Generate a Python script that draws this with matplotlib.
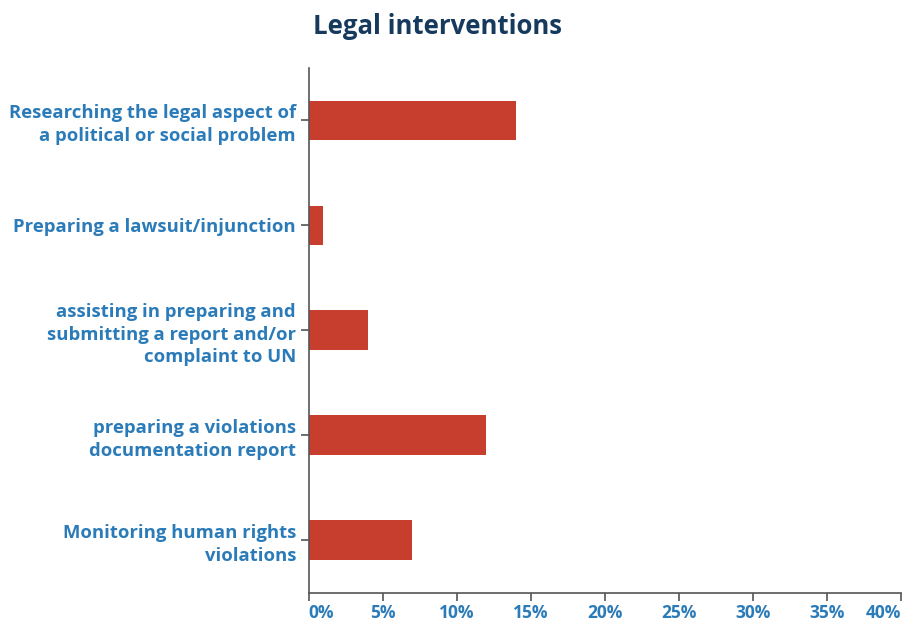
import matplotlib.pyplot as plt
from matplotlib.ticker import PercentFormatter

# Share of legal interventions, bottom to top
categories = [
    "Monitoring human rights\nviolations",
    "preparing a violations\ndocumentation report",
    "assisting in preparing and\nsubmitting a report and/or\ncomplaint to UN",
    "Preparing a lawsuit/injunction",
    "Researching the legal aspect of\na political or social problem",
]
values = [7, 12, 4, 1, 14]
xticks = [0, 5, 10, 15, 20, 25, 30, 35, 40]

bar_color = "#c73e2e"
label_color = "#2b7bb9"
title_color = "#16395e"
axis_color = "#555555"

plt.rcParams["font.family"] = ["Open Sans", "DejaVu Sans"]

fig = plt.figure(figsize=(9.05, 6.24), dpi=100)
ax = fig.add_axes([0.341, 0.05, 0.655, 0.841])

ax.barh(range(len(categories)), values, height=0.38, color=bar_color)

ax.set_xlim(0, 40)
ax.set_ylim(-0.5, 4.5)
ax.set_xticks(xticks)
ax.xaxis.set_major_formatter(PercentFormatter(decimals=0))
ax.set_yticks(range(len(categories)))
ax.set_yticklabels(categories, ha="right", multialignment="right")

for side in ("top", "right"):
    ax.spines[side].set_visible(False)
for side in ("left", "bottom"):
    ax.spines[side].set_color(axis_color)
    ax.spines[side].set_linewidth(1.2)

ax.tick_params(axis="both", colors=axis_color, length=6, width=1.2)
ax.tick_params(axis="y", pad=3)
ax.tick_params(axis="x", pad=2)
for lbl in ax.get_yticklabels():
    lbl.set_color(label_color)
    lbl.set_fontweight("bold")
    lbl.set_fontsize(13.3)
    lbl.set_linespacing(1.3)
for lbl in ax.get_xticklabels():
    lbl.set_color(label_color)
    lbl.set_fontweight("bold")
    lbl.set_fontsize(12.5)

# keep the end labels inside the figure
xlabels = ax.get_xticklabels()
xlabels[0].set_ha("left")
xlabels[-1].set_ha("right")

fig.text(0.483, 0.958, "Legal interventions", ha="center", va="center",
         fontsize=18.5, fontweight="bold", color=title_color)

fig.savefig("out.png", dpi=100)
